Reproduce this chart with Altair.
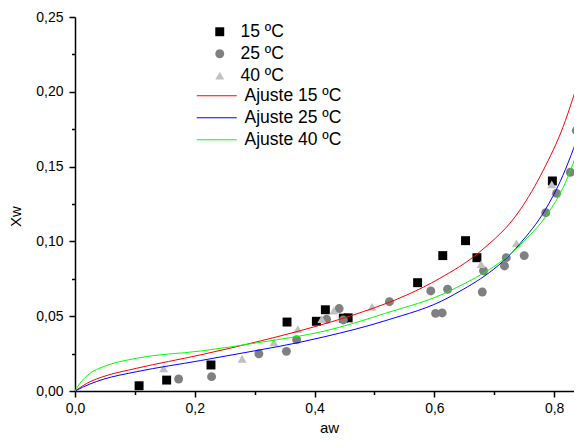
import altair as alt
import pandas as pd

aw_15 = [0.107, 0.153, 0.227, 0.354, 0.403, 0.418, 0.448, 0.456, 0.572, 0.614, 0.652, 0.671, 0.797]
xw_15 = [0.0035, 0.0073, 0.0174, 0.0461, 0.0466, 0.0543, 0.0487, 0.0489, 0.0724, 0.0905, 0.1005, 0.0891, 0.1404]

aw_25 = [0.173, 0.228, 0.307, 0.353, 0.370, 0.420, 0.441, 0.448, 0.525, 0.594, 0.602, 0.613, 0.622,
         0.680, 0.682, 0.717, 0.720, 0.750, 0.786, 0.804, 0.827, 0.837]
xw_25 = [0.0080, 0.0096, 0.0249, 0.0265, 0.0343, 0.0479, 0.0551, 0.0475, 0.0597, 0.0669, 0.0519, 0.0522, 0.0680,
         0.0662, 0.0804, 0.0836, 0.0891, 0.0905, 0.1192, 0.1321, 0.1462, 0.1741]

aw_40 = [0.148, 0.279, 0.332, 0.372, 0.412, 0.432, 0.496, 0.678, 0.737, 0.796]
xw_40 = [0.0152, 0.0214, 0.0325, 0.0414, 0.0480, 0.0537, 0.0562, 0.0848, 0.0987, 0.1381]

# ---- fitted curves ----
fit_aw_15 = [0.0, 0.025, 0.047, 0.103, 0.209, 0.309, 0.376, 0.409, 0.481, 0.554, 0.609, 0.676, 0.743, 0.782, 0.815, 0.846]
fit_xw_15 = [0.0, 0.0062, 0.0096, 0.0152, 0.0241, 0.0334, 0.0403, 0.0440, 0.0530, 0.0642, 0.0753, 0.0931, 0.1210, 0.1477, 0.1767, 0.2146]

fit_aw_25 = [0.0, 0.025, 0.047, 0.103, 0.209, 0.309, 0.376, 0.417, 0.518, 0.626, 0.743, 0.785, 0.810, 0.846]
fit_xw_25 = [0.0, 0.0047, 0.0078, 0.0129, 0.0203, 0.0275, 0.0326, 0.0363, 0.0470, 0.0630, 0.0985, 0.1210, 0.1400, 0.1770]

fit_aw_40 = [0.0, 0.0083, 0.025, 0.047, 0.103, 0.209, 0.309, 0.417, 0.518, 0.626, 0.743, 0.790, 0.815, 0.846]
fit_xw_40 = [0.0, 0.0051, 0.0118, 0.0162, 0.0219, 0.0267, 0.0325, 0.0401, 0.0519, 0.0670, 0.0976, 0.1190, 0.1360, 0.1680]

point_series = ["15 ºC", "25 ºC", "40 ºC"]
fit_series = ["Ajuste 15 ºC", "Ajuste 25 ºC", "Ajuste 40 ºC"]

pts = pd.concat([
    pd.DataFrame({"aw": aw_15, "xw": xw_15, "serie": point_series[0]}),
    pd.DataFrame({"aw": aw_25, "xw": xw_25, "serie": point_series[1]}),
    pd.DataFrame({"aw": aw_40, "xw": xw_40, "serie": point_series[2]}),
])
fits = pd.concat([
    pd.DataFrame({"aw": fit_aw_15, "xw": fit_xw_15, "ajuste": fit_series[0]}),
    pd.DataFrame({"aw": fit_aw_25, "xw": fit_xw_25, "ajuste": fit_series[1]}),
    pd.DataFrame({"aw": fit_aw_40, "xw": fit_xw_40, "ajuste": fit_series[2]}),
])

FONT = "Liberation Sans"

x_minor = "round(datum.value*10)%2==1"
y_minor = "round(datum.value*40)%2==1"

x_axis = alt.Axis(
    values=[0, 0.1, 0.2, 0.3, 0.4, 0.5, 0.6, 0.7, 0.8],
    labelExpr=f"{x_minor} ? '' : replace(format(datum.value, '.1f'), '.', ',')",
    tickSize={"condition": {"test": x_minor, "value": 3.5}, "value": 6},
    grid=False, title="aw", titleX=254, titleY=36, titleBaseline="middle",
    labelPadding=4, labelFlush=False,
)
y_axis = alt.Axis(
    values=[0, 0.025, 0.05, 0.075, 0.1, 0.125, 0.15, 0.175, 0.2, 0.225, 0.25],
    labelExpr=f"{y_minor} ? '' : replace(format(datum.value, '.2f'), '.', ',')",
    tickSize={"condition": {"test": y_minor, "value": 3.5}, "value": 6},
    grid=False, title="Xw", titleX=-60, titleY=199, titleAngle=270,
    titleAlign="center", titleBaseline="middle", labelPadding=6, labelFlush=False,
)

x_enc = alt.X("aw:Q", scale=alt.Scale(domain=[0, 0.8331], nice=False, zero=False), axis=x_axis)
y_enc = alt.Y("xw:Q", scale=alt.Scale(domain=[0, 0.25], nice=False), axis=y_axis)

pt_legend = alt.Legend(title=None, orient="none", legendX=136, legendY=6, padding=0,
                       labelFont=FONT, labelFontSize=17.5, labelColor="black",
                       labelOffset=12, rowPadding=3, symbolSize=80)

points = alt.Chart(pts).mark_point(filled=True, size=80, opacity=1, strokeWidth=0).encode(
    x=x_enc, y=y_enc,
    shape=alt.Shape("serie:N", scale=alt.Scale(domain=point_series, range=["square", "circle", "triangle-up"]),
                    legend=pt_legend),
    color=alt.Color("serie:N", scale=alt.Scale(domain=point_series, range=["#000000", "#808080", "#c0c0c0"]),
                    legend=pt_legend),
)

lines = alt.Chart(fits).mark_line(strokeWidth=1, interpolate="monotone", clip=True).encode(
    x=x_enc, y=y_enc,
    stroke=alt.Stroke("ajuste:N", scale=alt.Scale(domain=fit_series, range=["#ff0000", "#0000ff", "#00ff00"]),
                      legend=alt.Legend(title=None, orient="none", legendX=133, legendY=70, padding=0,
                                        labelFont=FONT, labelFontSize=17.5, labelColor="black",
                                        labelOffset=19, rowPadding=3, symbolType="M-5,0H5",
                                        symbolSize=64, symbolStrokeWidth=1)),
    detail="ajuste:N",
)

chart = alt.layer(points, lines).properties(
    width=499, height=374,
    padding={"left": 67, "top": 9, "right": 0, "bottom": 45},
    autosize="none",
).configure_view(stroke=None).configure_axis(
    domainColor="black", domainWidth=1.5, tickColor="black", tickWidth=1.5,
    labelFont=FONT, labelFontSize=14, labelColor="black",
    titleFont=FONT, titleFontSize=15, titleColor="black", titleFontWeight="normal",
)

chart.save("out.html", embed_options={"renderer": "svg", "actions": False})
